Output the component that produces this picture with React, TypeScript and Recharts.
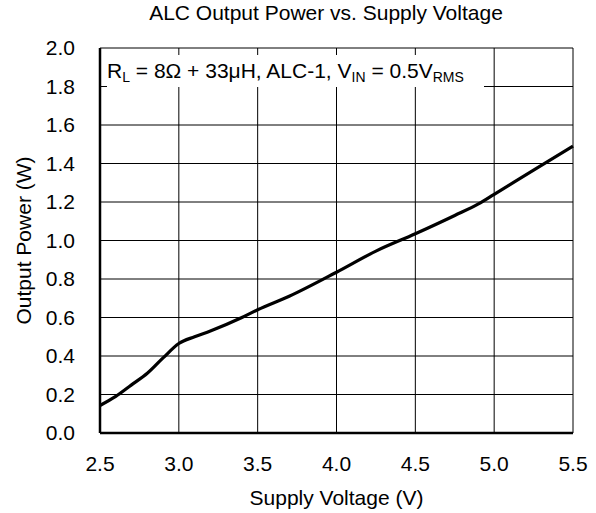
import { CartesianGrid, Line, LineChart, XAxis, YAxis } from "recharts"

// Supply voltage (V) and output power (W)
const supplyVoltage = [2.5, 2.6, 2.7, 2.8, 2.9, 3.0, 3.1, 3.2, 3.4, 3.5, 3.7, 4.0, 4.25, 4.5, 4.75, 4.9, 5.0, 5.25, 5.5]
const outputPower = [0.143, 0.19, 0.25, 0.31, 0.39, 0.465, 0.5, 0.53, 0.6, 0.64, 0.71, 0.835, 0.945, 1.035, 1.13, 1.19, 1.24, 1.365, 1.49]

const xTicks = [2.5, 3.0, 3.5, 4.0, 4.5, 5.0, 5.5]
const yTicks = [0, 0.2, 0.4, 0.6, 0.8, 1.0, 1.2, 1.4, 1.6, 1.8, 2.0]

const data = supplyVoltage.map((v, i) => ({ v, p: outputPower[i] }))

const font = "'Liberation Sans', Arial, sans-serif"
const fs = 21

export default function App() {
  const sub = { fontSize: 14, verticalAlign: "-4px" }
  return (
    <div style={{ position: "absolute", left: 0, top: 0, width: 596, height: 513, background: "#fff", fontFamily: font }}>
      <div style={{ position: "absolute", left: 0, width: 652, top: 1, textAlign: "center", fontSize: fs, color: "#000", whiteSpace: "nowrap" }}>
        ALC Output Power vs. Supply Voltage
      </div>
      <LineChart width={596} height={513} data={data} margin={{ top: 48, right: 23, left: 0, bottom: 0 }}>
        <CartesianGrid stroke="#000" strokeWidth={1} />
        <XAxis
          dataKey="v"
          type="number"
          domain={[2.5, 5.5]}
          ticks={xTicks}
          tickFormatter={(t) => t.toFixed(1)}
          height={80}
          tickSize={0}
          tickMargin={23}
          axisLine={{ stroke: "#000", strokeWidth: 2.5 }}
          tick={{ fill: "#000", fontSize: fs, fontFamily: font }}
          label={{ value: "Supply Voltage (V)", position: "insideBottom", offset: 8, fill: "#000", fontSize: fs, fontFamily: font }}
        />
        <XAxis xAxisId="top" orientation="top" dataKey="v" type="number" domain={[2.5, 5.5]} height={0} tick={false} tickLine={false} axisLine={{ stroke: "#000", strokeWidth: 2 }} />
        <YAxis
          type="number"
          domain={[0, 2]}
          ticks={yTicks}
          tickFormatter={(t) => t.toFixed(1)}
          width={100}
          tickSize={0}
          tickMargin={25}
          axisLine={{ stroke: "#000", strokeWidth: 2.5 }}
          tick={{ fill: "#000", fontSize: fs, fontFamily: font }}
          label={{
            content: ({ viewBox }: any) => {
              const cx = viewBox.x + 23
              const cy = viewBox.y + viewBox.height / 2
              return (
                <text x={cx} y={cy} transform={`rotate(-90 ${cx} ${cy})`} textAnchor="middle" dominantBaseline="central" fill="#000" fontSize={fs} fontFamily={font}>
                  Output Power (W)
                </text>
              )
            },
          }}
        />
        <YAxis yAxisId="right" orientation="right" domain={[0, 2]} width={0} tick={false} tickLine={false} axisLine={{ stroke: "#000", strokeWidth: 2 }} />
        <Line type="monotone" dataKey="p" stroke="#000" strokeWidth={3.2} dot={false} activeDot={false} isAnimationActive={false} />
      </LineChart>
      <div
        style={{
          position: "absolute",
          left: 107,
          top: 55,
          width: 377,
          height: 32,
          background: "#fff",
          fontSize: fs,
          lineHeight: "32px",
          color: "#000",
          whiteSpace: "nowrap",
        }}
      >
        R<sub style={sub}>L</sub> = 8Ω + 33μH, ALC-1, V<sub style={sub}>IN</sub> = 0.5V<sub style={sub}>RMS</sub>
      </div>
    </div>
  )
}
